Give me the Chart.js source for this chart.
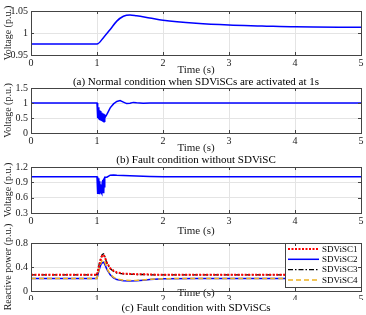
<!DOCTYPE html>
<html>
<head>
<meta charset="utf-8">
<title>SDViSC voltage and reactive power</title>
<script src="https://cdn.jsdelivr.net/npm/chart.js"></script>
<style>
  body { margin: 0; background: #fff; }
  #wrap { position: relative; width: 366px; height: 315px; overflow: hidden; }
  canvas { position: absolute; left: 0; }
  .cap { position: absolute; left: 31px; width: 330px; text-align: center;
         font: 11px "Liberation Serif", serif; color: #000; line-height: 14px; }
</style>
</head>
<body>
<div id="wrap">
  <canvas id="c1" width="366" height="77" style="top:0px"></canvas>
  <canvas id="c2" width="366" height="78" style="top:77px"></canvas>
  <canvas id="c3" width="366" height="82" style="top:156px"></canvas>
  <canvas id="c4" width="366" height="103" style="top:212px"></canvas>
  <div class="cap" style="top:74px">(a) Normal condition when SDViSCs are activated at 1s</div>
  <div class="cap" style="top:152px">(b) Fault condition without SDViSC</div>
  <div class="cap" style="top:300px">(c) Fault condition with SDViSCs</div>
</div>

<script>
  // shared x axis
  const timeTicks = [0, 1, 2, 3, 4, 5];

  // (a) normal condition, SDViSCs activated at 1 s
  const tA = [0, 1.0, 1.1, 1.2, 1.3, 1.4, 1.5, 1.6, 1.8, 2.0, 2.5, 3.0, 3.5, 4.0, 5.0];
  const vA = [0.975, 0.975, 0.990, 1.008, 1.027, 1.038, 1.041, 1.039, 1.034, 1.029, 1.022, 1.018, 1.016, 1.014, 1.013];
  const ticksA = [0.95, 1, 1.05];

  // (b) fault without SDViSC
  const tB = [0, 1.0, 1.005, 1.01, 1.015, 1.02, 1.025, 1.03, 1.035, 1.04, 1.045, 1.05, 1.055, 1.06,
              1.065, 1.07, 1.075, 1.08, 1.085, 1.09, 1.095, 1.10, 1.105, 1.11, 1.115, 1.12,
              1.15, 1.2, 1.25, 1.3, 1.35, 1.4, 1.45, 1.5, 1.55, 1.6, 1.7, 1.8, 5.0];
  const vB = [1.0, 1.0, 0.50, 0.92, 0.49, 0.86, 0.47, 0.80, 0.46, 0.76, 0.45, 0.73, 0.44, 0.70,
              0.43, 0.68, 0.42, 0.66, 0.40, 0.65, 0.39, 0.64, 0.38, 0.62, 0.37, 0.50,
              0.62, 0.84, 0.97, 1.05, 1.08, 1.03, 0.98, 0.99, 1.02, 1.01, 0.995, 1.0, 1.0];
  const ticksB = [0, 0.5, 1, 1.5];

  // (c) fault with SDViSCs - voltage
  const tC = [0, 1.0, 1.005, 1.01, 1.015, 1.02, 1.025, 1.03, 1.035, 1.04, 1.045, 1.05, 1.055, 1.06,
              1.065, 1.07, 1.075, 1.08, 1.085, 1.09, 1.095, 1.10, 1.105, 1.11, 1.115, 1.12,
              1.15, 1.2, 1.25, 1.3, 1.4, 1.6, 1.8, 2.0, 5.0];
  const vC = [1.01, 1.01, 0.67, 1.0, 0.68, 0.98, 0.67, 0.96, 0.68, 0.92, 0.70, 0.86, 0.72, 0.80,
              0.70, 0.86, 0.68, 0.92, 0.69, 0.95, 0.70, 0.97, 0.72, 0.99, 0.80, 1.0,
              1.0, 1.04, 1.045, 1.04, 1.035, 1.025, 1.015, 1.01, 1.01];
  const ticksC = [0.3, 0.6, 0.9, 1.2];

  // (c) fault with SDViSCs - reactive power
  const tD = [0, 1.0, 1.02, 1.04, 1.06, 1.08, 1.1, 1.12, 1.15, 1.2, 1.25, 1.3, 1.4, 1.5, 1.6, 1.7, 1.8, 2.0, 2.5, 3.0, 4.0, 5.0];
  const q1 = [0.27, 0.27, 0.37, 0.46, 0.54, 0.59, 0.60, 0.56, 0.47, 0.38, 0.34, 0.31, 0.29, 0.285, 0.28, 0.28, 0.275, 0.27, 0.27, 0.27, 0.27, 0.27];
  const q2 = [0.21, 0.21, 0.30, 0.38, 0.44, 0.47, 0.48, 0.44, 0.36, 0.27, 0.22, 0.19, 0.172, 0.168, 0.172, 0.18, 0.19, 0.205, 0.21, 0.21, 0.21, 0.21];
  const q3 = [0.27, 0.27, 0.39, 0.48, 0.56, 0.61, 0.62, 0.57, 0.46, 0.37, 0.33, 0.30, 0.285, 0.28, 0.275, 0.275, 0.27, 0.27, 0.27, 0.27, 0.27, 0.27];
  const q4 = [0.21, 0.21, 0.31, 0.40, 0.47, 0.51, 0.52, 0.48, 0.38, 0.28, 0.23, 0.20, 0.18, 0.175, 0.178, 0.185, 0.195, 0.205, 0.21, 0.21, 0.21, 0.21];
  const seriesNames = ['SDViSC1', 'SDViSC2', 'SDViSC3', 'SDViSC4'];
  const ticksD = [0, 0.4, 0.8];

  Chart.defaults.font.family = '"Liberation Serif", "Times New Roman", serif';
  Chart.defaults.color = '#1a1a1a';

  const toXY = (t, v) => t.map((x, i) => ({ x: x, y: v[i] }));

  // box round the plot area with small inward ticks, like matlab axes
  const framePlugin = {
    id: 'frame',
    afterDraw(chart) {
      const { ctx, chartArea: a, scales } = chart;
      ctx.save();
      ctx.strokeStyle = '#444';
      ctx.lineWidth = 1;
      ctx.beginPath();
      scales.x.ticks.forEach(t => {
        const px = Math.round(scales.x.getPixelForValue(t.value)) + 0.5;
        ctx.moveTo(px, a.bottom); ctx.lineTo(px, a.bottom - 3);
        ctx.moveTo(px, a.top); ctx.lineTo(px, a.top + 3);
      });
      scales.y.ticks.forEach(t => {
        const py = Math.round(scales.y.getPixelForValue(t.value)) + 0.5;
        ctx.moveTo(a.left, py); ctx.lineTo(a.left + 3, py);
        ctx.moveTo(a.right, py); ctx.lineTo(a.right - 3, py);
      });
      ctx.stroke();
      ctx.strokeRect(Math.round(a.left) + 0.5, Math.round(a.top) + 0.5,
                     Math.round(a.right - a.left), Math.round(a.bottom - a.top));
      ctx.restore();
    }
  };

  // boxed legend in the top right corner of the plot
  const boxLegend = {
    id: 'boxLegend',
    afterDatasetsDraw(chart) {
      const { ctx, chartArea: a } = chart;
      const w = 76, h = 44;
      const x0 = a.right - w, y0 = a.top;
      ctx.save();
      ctx.fillStyle = '#fff';
      ctx.fillRect(x0, y0, w, h);
      ctx.strokeStyle = '#444';
      ctx.lineWidth = 1;
      ctx.strokeRect(Math.round(x0) + 0.5, Math.round(y0) + 0.5, w, h);
      ctx.font = '9px "Liberation Serif", serif';
      ctx.textBaseline = 'middle';
      chart.data.datasets.forEach((ds, i) => {
        const y = y0 + 6 + i * 10.3;
        ctx.strokeStyle = ds.borderColor;
        ctx.lineWidth = ds.borderWidth;
        ctx.setLineDash(ds.borderDash || []);
        ctx.beginPath();
        ctx.moveTo(x0 + 3, y); ctx.lineTo(x0 + 34, y);
        ctx.stroke();
        ctx.setLineDash([]);
        ctx.fillStyle = '#000';
        ctx.fillText(ds.label, x0 + 37, y + 0.5);
      });
      ctx.restore();
    }
  };

  function makeChart(id, cfg) {
    return new Chart(document.getElementById(id), {
      type: 'line',
      data: { datasets: cfg.datasets },
      options: {
        responsive: false,
        animation: false,
        devicePixelRatio: 1,
        layout: { padding: { top: cfg.padTop, right: 5, left: 0, bottom: cfg.padBottom || 0 } },
        plugins: { legend: { display: false }, tooltip: { enabled: false } },
        elements: { point: { radius: 0 }, line: { tension: 0 } },
        scales: {
          x: {
            type: 'linear', min: 0, max: 5,
            afterBuildTicks: s => { s.ticks = timeTicks.map(v => ({ value: v })); },
            afterFit: s => { s.height = cfg.xHeight; },
            grid: { color: '#e4e4e4', drawTicks: false },
            border: { display: false },
            ticks: { font: { size: 10 }, padding: 2, maxRotation: 0, autoSkip: false, callback: v => String(v) },
            title: { display: true, text: 'Time (s)', font: { size: 11 }, padding: 0 }
          },
          y: {
            min: cfg.yTicks[0], max: cfg.yTicks[cfg.yTicks.length - 1],
            afterBuildTicks: s => { s.ticks = cfg.yTicks.map(v => ({ value: v })); },
            afterFit: s => { s.width = 31; },
            grid: { color: '#e4e4e4', drawTicks: false },
            border: { display: false },
            ticks: { font: { size: 10 }, padding: 3, callback: v => String(v) },
            title: { display: true, text: cfg.yTitle, font: { size: 10 }, padding: { top: 2, bottom: 0 } }
          }
        }
      },
      plugins: [framePlugin].concat(cfg.plugins || [])
    });
  }

  makeChart('c1', {
    padTop: 11, xHeight: 22, yTicks: ticksA, yTitle: 'Voltage (p.u.)',
    datasets: [{ data: toXY(tA, vA), borderColor: '#0000ff', borderWidth: 1.5, cubicInterpolationMode: 'monotone' }]
  });

  makeChart('c2', {
    padTop: 11, xHeight: 22, yTicks: ticksB, yTitle: 'Voltage (p.u.)',
    datasets: [{ data: toXY(tB, vB), borderColor: '#0000ff', borderWidth: 1.5 }]
  });

  makeChart('c3', {
    padTop: 11, xHeight: 25, yTicks: ticksC, yTitle: 'Voltage (p.u.)',
    datasets: [{ data: toXY(tC, vC), borderColor: '#0000ff', borderWidth: 1.5 }]
  });

  makeChart('c4', {
    padTop: 31, padBottom: 15, xHeight: 9, yTicks: ticksD, yTitle: 'Reactive power (p.u.)',
    plugins: [boxLegend],
    datasets: [
      { label: seriesNames[0], data: toXY(tD, q1), borderColor: '#ff0000', borderWidth: 2, borderDash: [2, 1.5], order: 0 },
      { label: seriesNames[1], data: toXY(tD, q2), borderColor: '#0000ff', borderWidth: 1.5, order: 3 },
      { label: seriesNames[2], data: toXY(tD, q3), borderColor: '#000000', borderWidth: 1.3, borderDash: [5, 2, 1.5, 2], order: 2 },
      { label: seriesNames[3], data: toXY(tD, q4), borderColor: '#EDB120', borderWidth: 1.5, borderDash: [5, 3], order: 1 }
    ]
  });
</script>
</body>
</html>
